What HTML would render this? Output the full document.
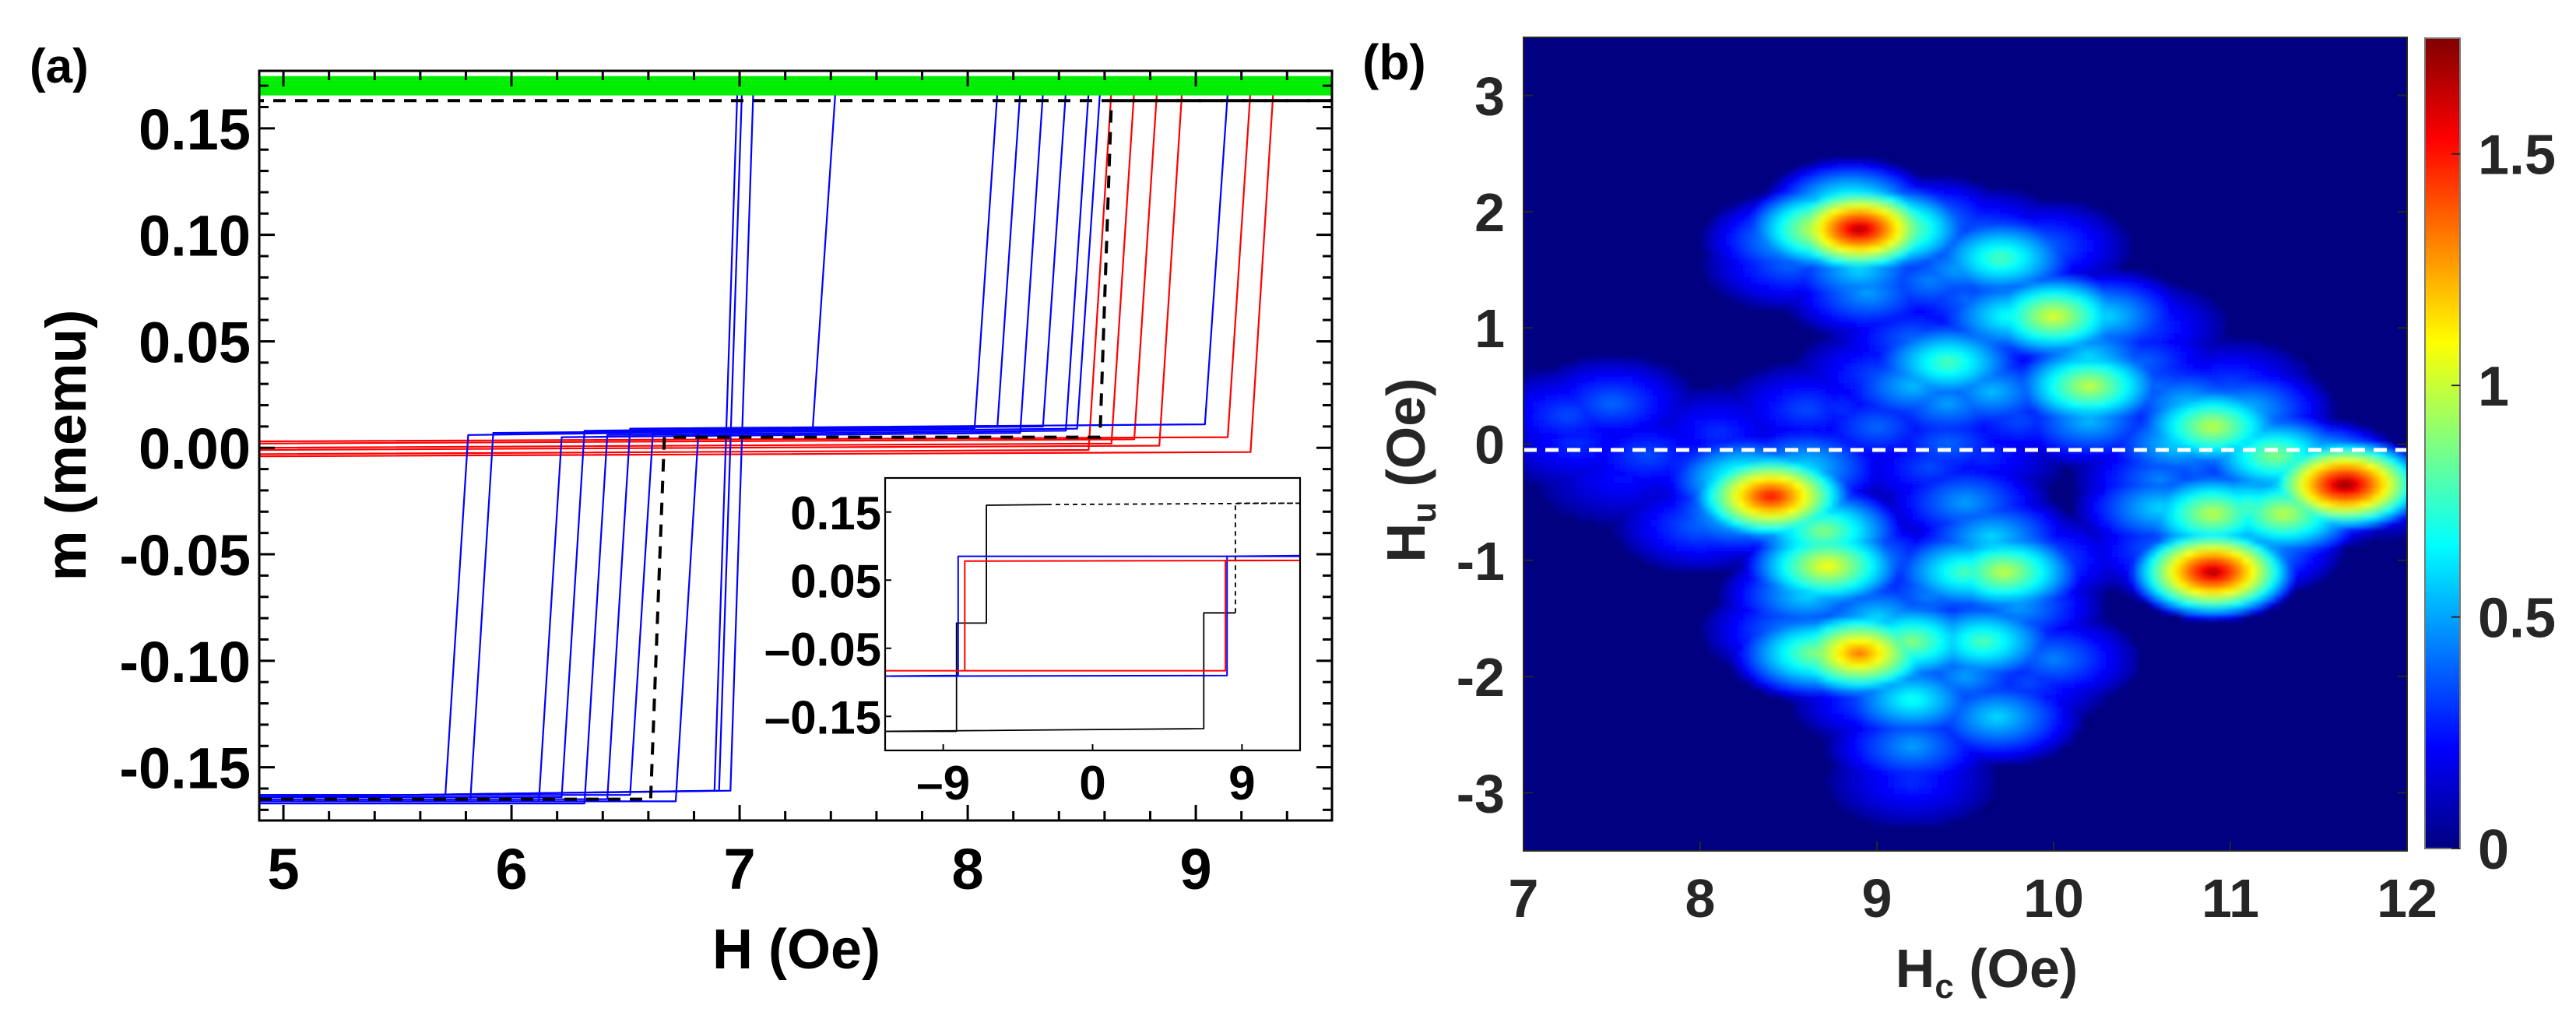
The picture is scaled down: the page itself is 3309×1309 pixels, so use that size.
<!DOCTYPE html>
<html><head><meta charset="utf-8"><style>
html,body{margin:0;padding:0;background:#fff}
svg{display:block}
text{font-family:"Liberation Sans",Arial,sans-serif;font-weight:bold}
</style></head><body>
<svg id="fig" width="3309" height="1309" viewBox="0 0 3309 1309" xmlns="http://www.w3.org/2000/svg">
<defs>
<clipPath id="clipA"><rect x="333" y="91" width="1378" height="963"/></clipPath>
<clipPath id="clipI"><rect x="1137" y="614" width="533" height="350"/></clipPath>
<clipPath id="clipB"><rect x="1957" y="48" width="1135" height="1045"/></clipPath>
<filter id="blur" x="-5%" y="-5%" width="110%" height="110%"><feGaussianBlur stdDeviation="3"/></filter>
<linearGradient id="jet" x1="0" y1="1" x2="0" y2="0">
<stop offset="0" stop-color="#000080"/><stop offset="0.125" stop-color="#0000ff"/>
<stop offset="0.375" stop-color="#00ffff"/><stop offset="0.625" stop-color="#ffff00"/>
<stop offset="0.875" stop-color="#ff0000"/><stop offset="1" stop-color="#800000"/>
</linearGradient>
</defs>
<text x="38" y="106" font-size="62">(a)</text>
<text x="1750" y="102" font-size="64">(b)</text>
<g id="panelA"></g>
<g id="inset"></g>
<g id="panelB"></g>
<text transform="translate(110,572) rotate(-90)" text-anchor="middle" font-size="73">m (memu)</text>
<text x="1023" y="1244" text-anchor="middle" font-size="72">H (Oe)</text>
<text x="2552" y="1268" text-anchor="middle" font-size="70" fill="#262626">H<tspan font-size="44" dy="14">c</tspan><tspan dy="-14"> (Oe)</tspan></text>
<text transform="translate(1830,604) rotate(-90)" text-anchor="middle" font-size="70" fill="#262626">H<tspan font-size="44" dy="14">u</tspan><tspan dy="-14"> (Oe)</tspan></text>
</svg>
<script>
// ---------- Panel (a) data ----------
const greenLevels = [0.166,0.167,0.168,0.169,0.170,0.170,0.171,0.172,0.173,0.174];
const blueLowSwitch = [5.71,5.82,6.12,6.22,6.32,6.42,6.52,6.72];
const blueHighSwitch = [7.32,8.03,8.23,8.33,8.43,9.04,8.48,8.13];
const blueMidLevels = [0.006,0.007,0.005,0.008,0.006,0.009,0.007,0.008];
const blueBottomLevels = [-0.163,-0.165,-0.166,-0.164,-0.167,-0.165,-0.163,-0.166];
const blueFullSwitch = [6.89,6.91,6.96];
const redSwitch = [8.53,8.63,8.73,8.84,9.14,9.24];
const redMidLevels = [-0.003,0.000,0.002,-0.001,0.003,-0.004];
const blackSwitch = [6.61,8.58];
const blackLevels = [-0.165,0.005,0.163];
const yTicksA = [-0.15,-0.10,-0.05,0.00,0.05,0.10,0.15];
const yTickLabelsA = ["-0.15","-0.10","-0.05","0.00","0.05","0.10","0.15"];
const xTicksA = [5,6,7,8,9];
// ---------- Inset data ----------
const insBlackDescH = [-2.5,-6.4,-6.4,-8.2,-8.2,-12.5];
const insBlackDescM = [0.161,0.160,-0.013,-0.013,-0.172,-0.172];
const insBlackAscH = [-12.5,6.7,6.7,8.6];
const insBlackAscM = [-0.172,-0.168,0.002,0.002];
const insBlackDashH = [8.6,8.6,12.5];
const insBlackDashM = [0.002,0.163,0.163];
const insBlackTopDashH = [12.5,-2.5];
const insBlackTopDashM = [0.163,0.161];
const insBlueH = [-12.5,8.1,8.1,12.5,12.5,-8.1,-8.1,-12.5];
const insBlueM = [-0.091,-0.090,0.085,0.086,0.085,0.085,-0.090,-0.091];
const insRedH = [-12.5,8.0,8.0,12.5,12.5,-7.7,-7.7,-12.5];
const insRedM = [-0.083,-0.083,0.079,0.079,0.079,0.078,-0.083,-0.083];
const insYTicks = [0.15,0.05,-0.05,-0.15];
const insYLabels = ["0.15","0.05","\u20130.05","\u20130.15"];
const insXTicks = [-9,0,9];
const insXLabels = ["\u20139","0","9"];
// ---------- Panel (b) data : scattered FORC points [Hc, Hu, rho] ----------
const forcHc = [7.25,7.5,7.3,7.7,7.55,7.9, 8.9,8.7,9.1,8.85,8.5,9.3,8.9,8.95,8.5, 9.7,9.45,9.95,9.6,
 10.0,9.75,10.3,10.5,9.6, 9.4,9.2,9.65,9.4, 10.2,10.2,10.2, 10.6,10.9,11.1,10.7,10.75,
 11.25,11.5,11.65,11.85,11.4,10.6, 10.9,11.3,10.6,11.1, 10.9,10.75,11.15,
 8.4,8.25,8.6,8.7,8.2, 8.72,8.6,8.95, 9.5,9.65,9.72,9.5,9.95,9.8,
 8.9,8.65,9.2,9.6,9.0, 9.2,9.2,9.45,9.68,10.0,9.85,9.2, 9.0,9.4,8.7,9.6,8.8,
 9.3,9.5,9.2,9.0,8.6,8.1,9.8,10.5,10.4,10.6,11.5,9.3,9.3,8.5,9.5,9.0,8.0,8.0,10.8,11.0];
const forcHu = [0.25,0.35,0.0,-0.1,-0.3,-0.05, 1.85,1.85,1.85,2.05,1.75,1.9,1.5,1.3,1.55, 1.6,1.5,1.7,1.8,
 1.1,1.1,1.1,1.0,0.9, 0.7,0.5,0.45,0.35, 0.5,0.2,0.75, 0.5,0.15,0.3,0.0,0.35,
 -0.1,-0.2,-0.35,-0.4,-0.35,-0.3, -0.6,-0.6,-0.55,-0.55, -1.1,-1.0,-0.9,
 -0.45,-0.3,-0.2,-0.75,-0.6, -1.05,-1.3,-1.0, -0.5,-0.8,-1.1,-1.1,-1.0,-1.4,
 -1.8,-1.8,-1.7,-1.7,-1.5, -2.2,-2.6,-2.3,-2.35,-1.85,-2.05,-2.9, 0.15,0.0,0.0,-0.1,0.3,
 1.4,1.25,0.9,0.6,0.3,0.1,0.2,0.7,0.3,-0.9,-0.5,-0.2,-1.3,-1.6,-2.0,-2.2,-0.2,-0.7,-0.2,0.5];
const forcRho = [0.35,0.4,0.3,0.35,0.25,0.2, 1.7,1.1,1.0,0.8,0.55,0.5,0.6,0.5,0.4, 0.8,0.5,0.4,0.4,
 1.05,0.7,0.6,0.35,0.45, 0.8,0.55,0.55,0.5, 1.0,0.55,0.6, 0.4,1.0,0.55,0.6,0.55,
 0.9,0.8,1.75,0.4,0.45,0.45, 1.0,1.0,0.6,0.8, 1.7,0.5,0.55,
 1.55,0.8,0.6,0.9,0.6, 1.1,0.6,0.5, 0.5,0.6,1.0,0.8,0.4,0.5,
 1.35,0.9,0.9,0.8,0.6, 0.7,0.5,0.4,0.6,0.45,0.35,0.3, 0.4,0.4,0.3,0.3,0.3,
 0.45,0.4,0.4,0.35,0.35,0.3,0.35,0.4,0.35,0.4,0.5,0.35,0.45,0.45,0.5,0.4,0.35,0.4,0.4,0.35];
const xTicksB = [7,8,9,10,11,12];
const yTicksB = [-3,-2,-1,0,1,2,3];
const cbTicks = [0,0.5,1,1.5];
const cbLabels = ["0","0.5","1","1.5"];

const NS = "http://www.w3.org/2000/svg";
function mk(tag, attrs, parent){ const e=document.createElementNS(NS,tag); for(const k in attrs) e.setAttribute(k,attrs[k]); parent.appendChild(e); return e; }

const xA = h => 333 + (h-4.894)/(9.597-4.894)*1378;
const yA = v => 91 + (0.177-v)/0.352*963;
const xI = h => 1137 + (h+12.5)/25*533;
const yI = v => 614 + (0.2-v)/0.4*350;
const xB = h => 1957 + (h-7)/5*1135;
const yB = u => 48 + (3.5-u)/7*1045;
const yC = z => 1090 - z/1.75*1041;
const H0 = 4.894, H1 = 9.597, STEP = 0.1;

const A = document.getElementById('panelA');
const dataA = mk('g',{'clip-path':'url(#clipA)'},A);
function line(parent, hs, ms, sx, sy, color, w, dash){
  const pts = hs.map((h,i)=>sx(h).toFixed(1)+','+sy(ms[i]).toFixed(1)).join(' ');
  const at = {points:pts, fill:'none', stroke:color, 'stroke-width':w, 'stroke-linejoin':'round'};
  if(dash) at['stroke-dasharray']=dash;
  return mk('polyline', at, parent);
}
redSwitch.forEach((s,i)=>{
  const l = line(dataA,[H0,s,s+STEP,H1],[redMidLevels[i],redMidLevels[i]+0.002,0.168,0.168],xA,yA,'#ff0000',2.2);
  
  
});
blueLowSwitch.forEach((s,i)=>{
  const t = blueHighSwitch[i], m = blueMidLevels[i], b = blueBottomLevels[i];
  const l = line(dataA,[H0,s,s+STEP,t,t+STEP,H1],[b,b,m,m+0.002,0.167,0.167],xA,yA,'#0000ff',2.2);
  
  
});
blueFullSwitch.forEach((s,i)=>{
  const l = line(dataA,[H0,s,s+STEP,H1],[-0.164,-0.161,0.167,0.167],xA,yA,'#0000ff',2.2);
  
  
});
greenLevels.forEach(g=>{
  const l = line(dataA,[H0,H1],[g,g],xA,yA,'#00ee00',3);
  
  
});
{
  const l = line(dataA,[H0,blackSwitch[0],blackSwitch[0]+0.06,blackSwitch[1],blackSwitch[1]+0.05,H1],
    [blackLevels[0],blackLevels[0],blackLevels[1],blackLevels[1],blackLevels[2],blackLevels[2]],xA,yA,'#000',4,'16,12');
  
  
  const l2 = line(dataA,[H1,H0],[blackLevels[2],blackLevels[2]],xA,yA,'#000',4,'16,12');
  
  
}
{
  const fr = mk('rect',{x:333,y:91,width:1378,height:963,fill:'none',stroke:'#000','stroke-width':3},A);
  
  
  for(let k=0;k<=23;k++){ const h=5+k*0.2; if(h>H1) break; const x=xA(h); const maj=Math.abs(h-Math.round(h))<1e-6; const L=maj?20:12;
    const t1 = mk('line',{x1:x,y1:1054,x2:x,y2:1054-L,stroke:'#000','stroke-width':3},A);
    
    
    const t2 = mk('line',{x1:x,y1:91,x2:x,y2:91+L,stroke:'#000','stroke-width':3},A);
    
    
  }
  for(let k=-17;k<=17;k++){ const v=k*0.01; const y=yA(v); const maj=(k%5===0); const L=maj?20:12;
    const t1 = mk('line',{x1:333,y1:y,x2:333+L,y2:y,stroke:'#000','stroke-width':3},A);
    
    
    const t2 = mk('line',{x1:1711,y1:y,x2:1711-L,y2:y,stroke:'#000','stroke-width':3},A);
    
    
  }
  xTicksA.forEach(h=>{ const t=mk('text',{x:xA(h),y:1142,'text-anchor':'middle','font-size':74},A); t.textContent=String(h);
    
     });
  yTicksA.forEach((v,i)=>{ const t=mk('text',{x:322,y:yA(v)+27,'text-anchor':'end','font-size':74},A); t.textContent=yTickLabelsA[i];
    
     });
}
const I = document.getElementById('inset');
{
  const bg = mk('rect',{x:1137,y:614,width:533,height:350,fill:'#fff',stroke:'none'},I);
  
  
  const g = mk('g',{'clip-path':'url(#clipI)'},I);
  const l1=line(g,insBlackDescH,insBlackDescM,xI,yI,'#000',1.8);  
  const l2=line(g,insBlackAscH,insBlackAscM,xI,yI,'#000',1.8);  
  const l3=line(g,insBlackDashH,insBlackDashM,xI,yI,'#000',1.8,'6,5');  
  const l4=line(g,insBlackTopDashH,insBlackTopDashM,xI,yI,'#000',1.8,'6,5');  
  const l5=line(g,insBlueH,insBlueM,xI,yI,'#0000ff',2);  
  const l6=line(g,insRedH,insRedM,xI,yI,'#ff0000',2);  
  const fr = mk('rect',{x:1137,y:614,width:533,height:350,fill:'none',stroke:'#000','stroke-width':2.2},I);
  
  
  insXTicks.forEach((h,i)=>{ const x=xI(h);
    const tk=mk('line',{x1:x,y1:964,x2:x,y2:956,stroke:'#000','stroke-width':2},I);
    
    
    const t=mk('text',{x:x,y:1027,'text-anchor':'middle','font-size':62},I); t.textContent=insXLabels[i];
    
     });
  insYTicks.forEach((v,i)=>{ const y=yI(v);
    const tk=mk('line',{x1:1137,y1:y,x2:1145,y2:y,stroke:'#000','stroke-width':2},I);
    
    
    const t=mk('text',{x:1132,y:y+22,'text-anchor':'end','font-size':60},I); t.textContent=insYLabels[i];
    
     });
}
const B = document.getElementById('panelB');
function jet(z){ let t=Math.max(0,Math.min(1,z/1.75));
  const f=(a)=>Math.max(0,Math.min(1,a));
  const r=f(Math.min(4*t-1.5,-4*t+4.5)), g=f(Math.min(4*t-0.5,-4*t+3.5)), b=f(Math.min(4*t+0.5,-4*t+2.5));
  return 'rgb('+Math.round(r*255)+','+Math.round(g*255)+','+Math.round(b*255)+')'; }
function field(hc,hu){ let v=0.02;
  for(let i=0;i<forcHc.length;i++){ const dx=(hc-forcHc[i])/0.5, dy=(hu-forcHu[i])/0.42; const d=Math.sqrt(dx*dx+dy*dy);
    if(d<1){ const val=forcRho[i]*Math.pow(1-d,0.75); if(val>v) v=val; } }
  return v; }
{
  const clipG = mk('g',{'clip-path':'url(#clipB)'},B);
  const bg = mk('rect',{x:1957,y:48,width:1135,height:1045,fill:'#000080'},clipG);
  
  
  const cg = mk('g',{filter:'url(#blur)'},clipG);
  const C=8;
  for(let py=44; py<1097; py+=C){
    for(let px=1953; px<3096; px+=C){
      const hc = 7+(px+C/2-1957)/1135*5, hu = 3.5-(py+C/2-48)/1045*7;
      const v = field(hc,hu);
      if(v<=0.03) continue;
      const r = mk('rect',{x:px,y:py,width:C+0.6,height:C+0.6,fill:jet(v)},cg);
      
      
    }
  }
  const dl = mk('line',{x1:xB(7),y1:yB(-0.05),x2:xB(12),y2:yB(-0.05),stroke:'#fff','stroke-width':5,'stroke-dasharray':'17,11'},clipG);
  
  
  const fr = mk('rect',{x:1957,y:48,width:1135,height:1045,fill:'none',stroke:'#262626','stroke-width':2},B);
  
  
  xTicksB.forEach(h=>{ const x=xB(h);
    const tk=mk('line',{x1:x,y1:1093,x2:x,y2:1081,stroke:'#262626','stroke-width':2},B);
    
    
    const t=mk('text',{x:x,y:1178,'text-anchor':'middle','font-size':70,fill:'#262626'},B); t.textContent=String(h);
    
     });
  yTicksB.forEach(u=>{ const y=yB(u);
    const tk=mk('line',{x1:1957,y1:y,x2:1969,y2:y,stroke:'#262626','stroke-width':2},B);
    
    
    const tk2=mk('line',{x1:3092,y1:y,x2:3080,y2:y,stroke:'#262626','stroke-width':2},B);
    
    
    const t=mk('text',{x:1933,y:y+25,'text-anchor':'end','font-size':70,fill:'#262626'},B); t.textContent=String(u);
    
     });
  const cb = mk('rect',{x:3115,y:49,width:45,height:1041,fill:'url(#jet)',stroke:'#777','stroke-width':2},B);
  
  
  cbTicks.forEach((z,i)=>{ const y=yC(z);
    const tk=mk('line',{x1:3160,y1:y,x2:3149,y2:y,stroke:'#262626','stroke-width':2},B);
    
    
    const t=mk('text',{x:3183,y:y+26,'text-anchor':'start','font-size':72,fill:'#262626'},B); t.textContent=cbLabels[i];
    
     });
}
</script>
</body></html>
